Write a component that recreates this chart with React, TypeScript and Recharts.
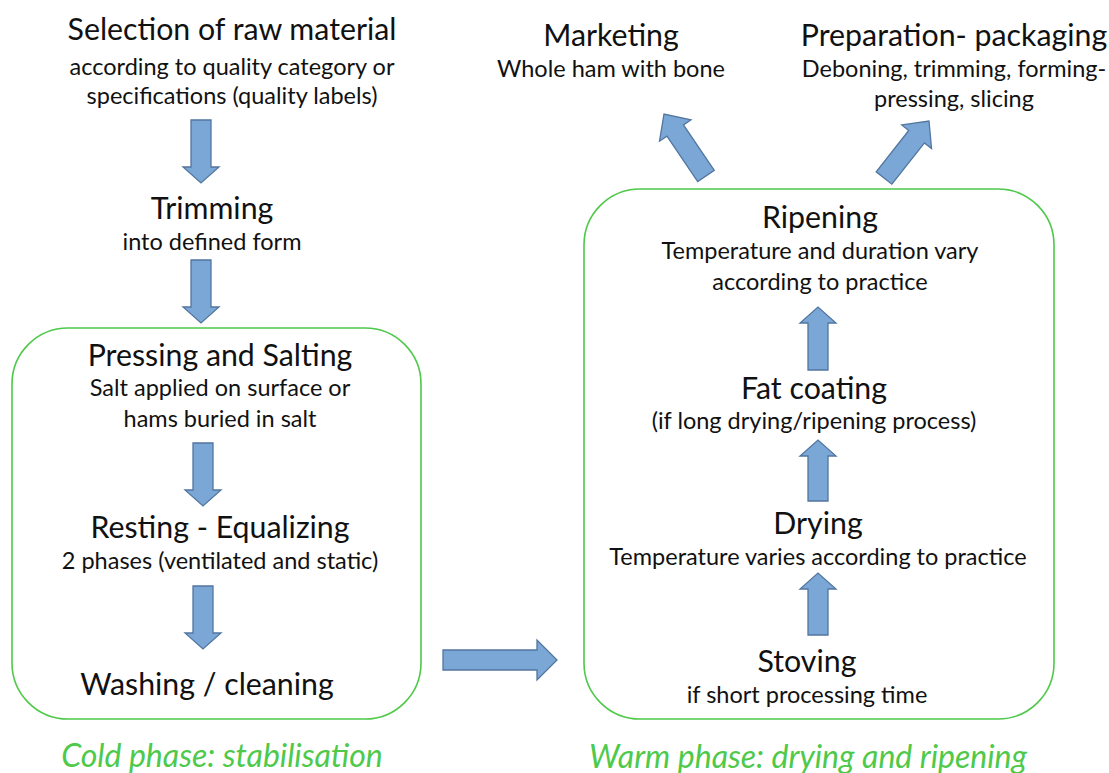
import React from 'react';
import { ScatterChart, Scatter, XAxis, YAxis, ReferenceLine, ReferenceArea } from 'recharts';

const W = 1109;
const H = 773;
const FONT = 'Lato, "Open Sans", sans-serif';

// step titles (center x, center y)
const titles = [
  { x: 232, y: 28, text: 'Selection of raw material' },
  { x: 212, y: 207, text: 'Trimming' },
  { x: 220, y: 354, text: 'Pressing and Salting' },
  { x: 220, y: 526, text: 'Resting - Equalizing' },
  { x: 207, y: 683, text: 'Washing / cleaning' },
  { x: 611, y: 34, text: 'Marketing' },
  { x: 954, y: 34, text: 'Preparation- packaging' },
  { x: 820, y: 216, text: 'Ripening' },
  { x: 814, y: 387, text: 'Fat coating' },
  { x: 818, y: 522, text: 'Drying' },
  { x: 807, y: 660, text: 'Stoving' },
];

// step descriptions
const subtitles = [
  { x: 232, y: 66, text: 'according to quality category or' },
  { x: 232, y: 95, text: 'specifications (quality labels)' },
  { x: 212, y: 241, text: 'into defined form' },
  { x: 220, y: 387, text: 'Salt applied on surface or' },
  { x: 220, y: 418, text: 'hams buried in salt' },
  { x: 220, y: 560, text: '2 phases (ventilated and static)' },
  { x: 611, y: 68, text: 'Whole ham with bone' },
  { x: 954, y: 68, text: 'Deboning, trimming, forming-' },
  { x: 954, y: 98, text: 'pressing, slicing' },
  { x: 820, y: 250, text: 'Temperature and duration vary' },
  { x: 820, y: 281, text: 'according to practice' },
  { x: 814, y: 420, text: '(if long drying/ripening process)' },
  { x: 818, y: 556, text: 'Temperature varies according to practice' },
  { x: 807, y: 694, text: 'if short processing time' },
];

// phase captions
const phases = [
  { x: 222, y: 754, text: 'Cold phase: stabilisation' },
  { x: 808, y: 755, text: 'Warm phase: drying and ripening' },
];

// phase boxes
const boxes = [
  { x1: 12, y1: 328, x2: 421, y2: 719 },
  { x1: 584, y1: 189, x2: 1054, y2: 719 },
];

// arrows: tail -> tip
const arrows = [
  { x1: 201, y1: 120, x2: 201, y2: 183, sw: 10, hw: 18, hl: 16 },
  { x1: 201, y1: 260, x2: 201, y2: 323, sw: 10, hw: 18, hl: 16 },
  { x1: 203, y1: 443, x2: 203, y2: 506, sw: 10, hw: 18, hl: 16 },
  { x1: 203, y1: 586, x2: 203, y2: 649, sw: 10, hw: 18, hl: 16 },
  { x1: 443, y1: 660, x2: 557, y2: 660, sw: 10, hw: 20, hl: 20 },
  { x1: 818, y1: 370, x2: 818, y2: 307, sw: 10, hw: 18, hl: 16 },
  { x1: 818, y1: 501, x2: 818, y2: 440, sw: 10, hw: 18, hl: 16 },
  { x1: 818, y1: 635, x2: 818, y2: 573, sw: 10, hw: 18, hl: 16 },
  { x1: 706, y1: 176, x2: 664, y2: 114, sw: 10, hw: 19, hl: 20 },
  { x1: 884, y1: 178, x2: 929, y2: 121, sw: 10, hw: 19, hl: 20 },
];

const textShape = (size: number, color: string, italic = false) => (props: any) => {
  const { cx, cy, payload } = props;
  return (
    <text
      x={cx}
      y={cy}
      textAnchor="middle"
      dominantBaseline="central"
      fontFamily={FONT}
      fontSize={size}
      fontStyle={italic ? 'italic' : 'normal'}
      fill={color}
    >
      {payload.text}
    </text>
  );
};

const makeArrowShape = (a: { sw: number; hw: number; hl: number }) => (props: any) => {
  const { x1, y1, x2, y2 } = props;
  const dx = x2 - x1;
  const dy = y2 - y1;
  const len = Math.sqrt(dx * dx + dy * dy) || 1;
  const ux = dx / len;
  const uy = dy / len;
  const nx = -uy;
  const ny = ux;
  const bx = x2 - ux * a.hl;
  const by = y2 - uy * a.hl;
  const pts = [
    [x1 + nx * a.sw, y1 + ny * a.sw],
    [bx + nx * a.sw, by + ny * a.sw],
    [bx + nx * a.hw, by + ny * a.hw],
    [x2, y2],
    [bx - nx * a.hw, by - ny * a.hw],
    [bx - nx * a.sw, by - ny * a.sw],
    [x1 - nx * a.sw, y1 - ny * a.sw],
  ]
    .map((p) => `${p[0]},${p[1]}`)
    .join(' ');
  return <polygon points={pts} fill="#7aa7d5" stroke="#52769f" strokeWidth={1.3} strokeLinejoin="miter" />;
};

const boxShape = (props: any) => {
  const { x, y, width, height } = props;
  return <rect x={x} y={y} width={width} height={height} rx={56} ry={56} fill="none" stroke="#4ec94a" strokeWidth={1.6} />;
};

export default function App() {
  return (
    <div style={{ position: 'absolute', left: 0, top: 0, width: W, height: H, background: '#fff' }}>
      <ScatterChart width={W} height={H} margin={{ top: 0, right: 0, bottom: 0, left: 0 }}>
        <XAxis type="number" dataKey="x" domain={[0, W]} hide allowDataOverflow />
        <YAxis type="number" dataKey="y" domain={[0, H]} reversed hide allowDataOverflow />
        {boxes.map((b, i) => (
          <ReferenceArea key={`b${i}`} x1={b.x1} x2={b.x2} y1={b.y1} y2={b.y2} shape={boxShape} ifOverflow="visible" />
        ))}
        {arrows.map((a, i) => (
          <ReferenceLine
            key={`a${i}`}
            segment={[{ x: a.x1, y: a.y1 }, { x: a.x2, y: a.y2 }]}
            shape={makeArrowShape(a)}
            ifOverflow="visible"
          />
        ))}
        <Scatter data={titles} shape={textShape(30.3, '#111')} isAnimationActive={false} />
        <Scatter data={subtitles} shape={textShape(23.5, '#111')} isAnimationActive={false} />
        <Scatter data={phases} shape={textShape(32, '#4ec94a', true)} isAnimationActive={false} />
      </ScatterChart>
    </div>
  );
}
